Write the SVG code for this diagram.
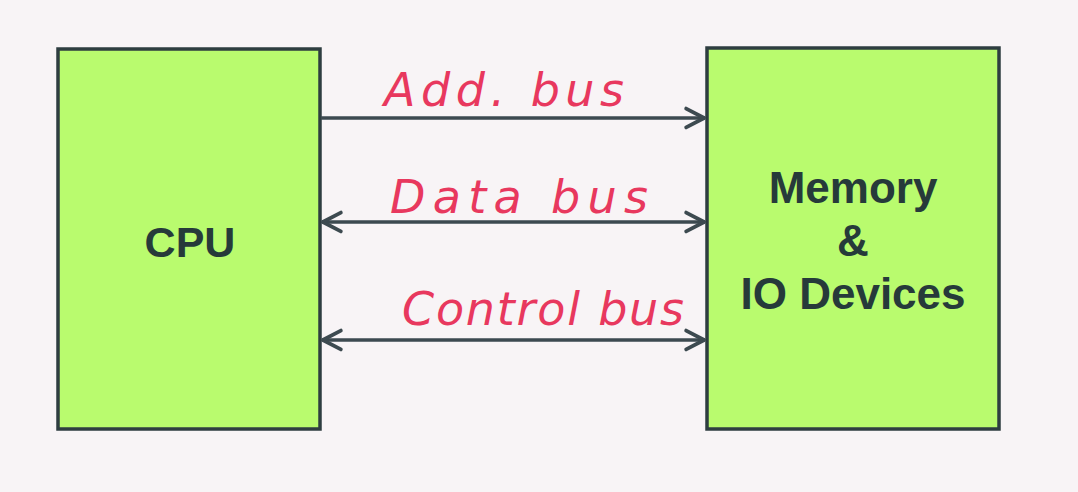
<svg xmlns="http://www.w3.org/2000/svg" width="1078" height="492" viewBox="0 0 1078 492">
<style>
.box{fill:#b9fb6e;stroke:#2e3d40;stroke-width:3.5}
.lbl{font-family:"Liberation Sans",Arial,sans-serif;font-weight:bold;fill:#263a3a;text-anchor:middle}
.bus{font-family:"DejaVu Sans","Liberation Sans",sans-serif;font-style:italic;font-weight:200;fill:#e8385e;font-size:46px}
.wire{stroke:#3d4a50;stroke-width:3.5;fill:none}
</style>
<defs>
<marker id="ah" viewBox="0 0 14 14" refX="13" refY="7" markerWidth="24" markerHeight="24" markerUnits="userSpaceOnUse" orient="auto-start-reverse">
<path d="M2,1.5 L12.5,7 L2,12.5" fill="none" stroke="#3d4a50" stroke-width="2.2" stroke-linecap="round" stroke-linejoin="round"/>
</marker>
</defs>
<rect width="1078" height="492" fill="#f8f4f6"/>
<g id="cpu">
<rect class="box" x="58" y="49" width="262" height="380"/>
<text class="lbl" x="190" y="257" font-size="43">CPU</text>
</g>
<g id="memory">
<rect class="box" x="707" y="48" width="292" height="381"/>
<text class="lbl" x="853" y="203" font-size="44">Memory</text>
<text class="lbl" x="853" y="256" font-size="44">&amp;</text>
<text class="lbl" x="853" y="309" font-size="44">IO Devices</text>
</g>
<g id="connectors">
<line class="wire" x1="321" y1="118" x2="705" y2="118" marker-end="url(#ah)"/>
<line class="wire" x1="322" y1="222" x2="705" y2="222" marker-start="url(#ah)" marker-end="url(#ah)"/>
<line class="wire" x1="322" y1="340" x2="705" y2="340" marker-start="url(#ah)" marker-end="url(#ah)"/>
<text class="bus" x="384" y="106" textLength="240" lengthAdjust="spacing">Add. bus</text>
<text class="bus" x="390" y="213" textLength="258" lengthAdjust="spacing">Data bus</text>
<text class="bus" x="402" y="325" textLength="282" lengthAdjust="spacing">Control bus</text>
</g>
</svg>
